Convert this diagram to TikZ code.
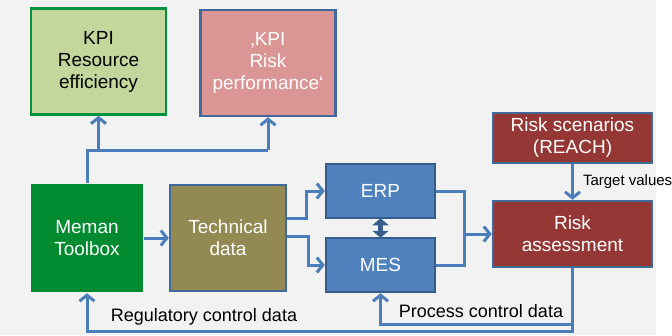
\documentclass[tikz,border=0pt]{standalone}
\usepackage{fontspec}
\setmainfont{Liberation Sans}
\usetikzlibrary{arrows.meta,positioning}
\definecolor{mybg}{RGB}{242,242,242}
\definecolor{myline}{RGB}{74,126,187}
\definecolor{myframe}{RGB}{65,104,155}
\definecolor{mydarkblue}{RGB}{56,93,138}
\definecolor{mylightgreen}{RGB}{195,214,155}
\definecolor{mygreen}{RGB}{0,139,48}
\definecolor{myframegreen}{RGB}{0,146,63}
\definecolor{myrose}{RGB}{217,150,148}
\definecolor{myolive}{RGB}{147,137,83}
\definecolor{myblue}{RGB}{79,129,189}
\definecolor{myred}{RGB}{149,55,53}

\begin{document}
\begin{tikzpicture}[x=1pt,y=-1pt,
  box/.style={draw=myframe,line width=2.5pt,inner sep=0pt,align=center,text=white,
    font=\fontsize{19}{22}\selectfont},
  kpibox/.style={box,minimum width=135pt,minimum height=106pt},
  bigbox/.style={box,minimum width=113pt,minimum height=106pt},
  sysbox/.style={box,draw=mydarkblue,fill=myblue,minimum width=109pt,minimum height=54pt},
  riskbox/.style={box,fill=myred,minimum width=159pt},
  line/.style={draw=myline,line width=3pt},
  arr/.style={line,-{Straight Barb[length=6pt,width=15pt]}},
  lbl/.style={font=\fontsize{18}{22}\selectfont,inner sep=0pt}]

  \useasboundingbox (0,0) rectangle (672,335);
  \fill[mybg] (0,0) rectangle (656,335);

  \node[kpibox,fill=mylightgreen,draw=myframegreen,text=black] (kpires) at (98.5,61.5)
    {KPI\\Resource\\efficiency};
  \node[kpibox,fill=myrose] (kpirisk) at (268,63) {‚KPI\\Risk\\performance‘};

  \node[bigbox,fill=mygreen,draw=none,minimum width=112pt,minimum height=108pt] (meman) at (87,238)
    {Meman\\Toolbox};
  \node[bigbox,fill=myolive,minimum width=116pt] (tech) at (228,238) {Technical\\data};

  \node[sysbox] (erp) at (380.5,191) {ERP};
  \node[sysbox] (mes) at (380.5,265) {MES};

  \node[riskbox,minimum height=50pt] (scen) at (572.5,138) {Risk scenarios\\(REACH)};
  \node[riskbox,minimum height=66pt] (risk) at (572.5,234) {Risk\\assessment};

  \coordinate (kpibus) at (0,150);
  \coordinate (procbus) at (0,324);
  \coordinate (regbus) at (0,331);

  % draw links up to the KPIs
  \draw[line] (meman.north) -- (meman.north |- kpibus) -- (kpirisk.south |- kpibus);
  \draw[arr] (kpires.south |- kpibus) -- (kpires.south);
  \draw[arr] (kpirisk.south |- kpibus) -- (kpirisk.south);

  \draw[arr] (meman.east) -- (tech.west);
  \draw[arr] ([yshift=20pt]tech.east) -- ++(19,0) |- (erp.west);
  \draw[arr] ([yshift=2pt]tech.east) -- ++(21,0) |- (mes.west);
  \draw[mydarkblue,line width=5pt,{Triangle[length=7pt,width=16pt]}-{Triangle[length=7pt,width=16pt]}]
    ([yshift=1pt]erp.south) -- ([yshift=-1pt]mes.north);

  \draw[line] (erp.east) -- ++(28,0) coordinate (merge) |- (mes.east);
  \draw[arr] (merge |- risk.west) -- (risk.west);

  \draw[arr] (scen.south) -- node[right=9pt,inner sep=0pt,font=\fontsize{15}{18}\selectfont] {Target\ values}
    (risk.north);

  % draw feedback loops
  \draw[arr] (risk.south) -- (risk.south |- regbus) -- (meman.south |- regbus) -- (meman.south);
  \draw[arr] (risk.south |- procbus) -- (mes.south |- procbus) -- (mes.south);

  \node[lbl] (reglbl) at (204,317) {Regulatory control data};
  \node[lbl] (proclbl) at (481,311) {Process control data};

\end{tikzpicture}
\end{document}
